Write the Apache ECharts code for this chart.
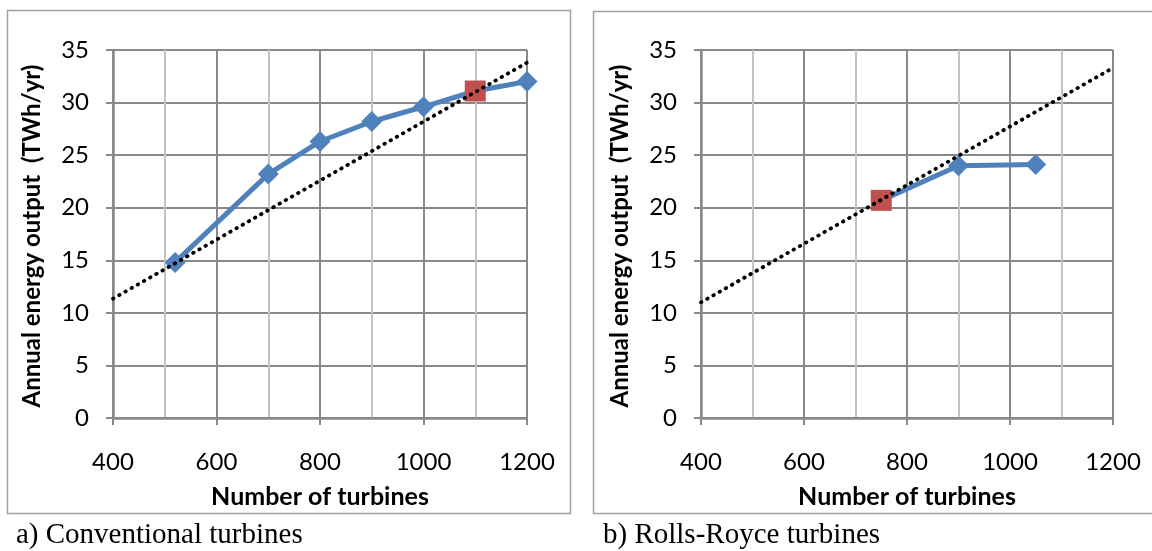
<!DOCTYPE html>
<html>
<head>
<meta charset="utf-8">
<script src="https://cdn.jsdelivr.net/npm/echarts@6/dist/echarts.min.js"></script>
<style>
html,body{margin:0;padding:0;background:#fff;}
#chart{width:1152px;height:551px;}
</style>
</head>
<body>
<div id="chart"></div>
<script>
// ---- data ----
const convTurbines = [520, 700, 800, 900, 1000, 1100, 1200];
const convOutput = [14.8, 23.2, 26.3, 28.2, 29.6, 31.1, 32.0];
const convChosenTurbines = [1100];
const convChosenOutput = [31.1];
const convTrendTurbines = [400, 1200];
const convTrendOutput = [11.35, 33.8];

const rrTurbines = [750, 900, 1050];
const rrOutput = [20.7, 24.0, 24.1];
const rrChosenTurbines = [750];
const rrChosenOutput = [20.7];
const rrTrendTurbines = [400, 1200];
const rrTrendOutput = [11.0, 33.3];

const xAxisTitle = 'Number of turbines';
const yAxisTitle = 'Annual energy output  (TWh/yr)';
const captionA = 'a) Conventional turbines';
const captionB = 'b) Rolls-Royce turbines';

const pair = (xs, ys) => xs.map((x, i) => [x, ys[i]]);

const FONT = 'Lato, "Open Sans", sans-serif';
const darkGrid = '#898989';
const lightGrid = '#c3c3c3';

function xAxisCfg(gridIndex) {
  return {
    type: 'value', gridIndex, min: 400, max: 1200, interval: 200,
    name: xAxisTitle, nameLocation: 'middle', nameGap: 66,
    nameTextStyle: { fontFamily: FONT, fontWeight: 'bold', fontSize: 25, color: '#000' },
    axisLine: { show: true, onZero: false, lineStyle: { color: darkGrid, width: 2.5 } },
    axisTick: { show: true, length: 7, lineStyle: { color: darkGrid, width: 2 } },
    minorTick: { show: false, splitNumber: 2 },
    axisLabel: { fontFamily: FONT, fontSize: 24, color: '#000', margin: 32, formatter: v => String(v) },
    splitLine: { show: true, lineStyle: { color: darkGrid, width: 2 } },
    minorSplitLine: { show: true, lineStyle: { color: lightGrid, width: 2 } }
  };
}
function yAxisCfg(gridIndex) {
  return {
    type: 'value', gridIndex, min: 0, max: 35, interval: 5,
    name: yAxisTitle, nameLocation: 'middle', nameGap: 69, nameRotate: 90,
    nameTextStyle: { fontFamily: FONT, fontWeight: 'bold', fontSize: 24, color: '#000', padding: [0, 4, 0, 0] },
    axisLine: { show: true, onZero: false, lineStyle: { color: darkGrid, width: 2.5 } },
    axisTick: { show: true, length: 7, lineStyle: { color: darkGrid, width: 2 } },
    axisLabel: { fontFamily: FONT, fontSize: 24, color: '#000', margin: 24, formatter: v => String(v) },
    splitLine: { show: true, lineStyle: { color: darkGrid, width: 2 } }
  };
}

function seriesFor(idx, xs, ys, cx, cy, tx, ty) {
  return [
    {
      type: 'line', xAxisIndex: idx, yAxisIndex: idx, data: pair(xs, ys),
      symbol: 'diamond', symbolSize: 21, z: 2,
      lineStyle: { color: '#4F81BD', width: 5 },
      itemStyle: { color: '#4F81BD', opacity: 1 }, silent: true, animation: false
    },
    {
      type: 'scatter', xAxisIndex: idx, yAxisIndex: idx, data: pair(cx, cy),
      symbol: 'rect', symbolSize: 21, z: 3,
      itemStyle: { color: '#C0504D', opacity: 1 }, silent: true, animation: false
    },
    {
      type: 'line', xAxisIndex: idx, yAxisIndex: idx, data: pair(tx, ty),
      symbol: 'none', z: 4,
      lineStyle: { color: '#000', width: 3.8, type: [0.5, 6.6], cap: 'round' },
      silent: true, animation: false
    }
  ];
}

const chart = echarts.init(document.getElementById('chart'), null, { renderer: 'canvas' });
const captionStyle = { fontFamily: '"Liberation Serif", "Times New Roman", serif', fontWeight: 'normal', fontSize: 29, color: '#000' };
chart.setOption({
  animation: false,
  backgroundColor: '#fff',
  title: [
    { text: captionA, left: 16, top: 521, padding: 0, textStyle: captionStyle },
    { text: captionB, left: 603, top: 521, padding: 0, textStyle: captionStyle }
  ],
  graphic: [
    { type: 'rect', shape: { x: 7.5, y: 10.5, width: 563, height: 503 }, style: { fill: 'none', stroke: '#a0a0a0', lineWidth: 1.5 }, z: -1 },
    { type: 'rect', shape: { x: 593.5, y: 11.5, width: 570, height: 502 }, style: { fill: 'none', stroke: '#a0a0a0', lineWidth: 1.5 }, z: -1 }
  ],
  grid: [
    { left: 113, top: 50, width: 414, height: 368 },
    { left: 701, top: 50, width: 412, height: 368 }
  ],
  xAxis: [xAxisCfg(0), xAxisCfg(1)],
  yAxis: [yAxisCfg(0), yAxisCfg(1)],
  series: [
    ...seriesFor(0, convTurbines, convOutput, convChosenTurbines, convChosenOutput, convTrendTurbines, convTrendOutput),
    ...seriesFor(1, rrTurbines, rrOutput, rrChosenTurbines, rrChosenOutput, rrTrendTurbines, rrTrendOutput)
  ]
});
</script>
</body>
</html>
